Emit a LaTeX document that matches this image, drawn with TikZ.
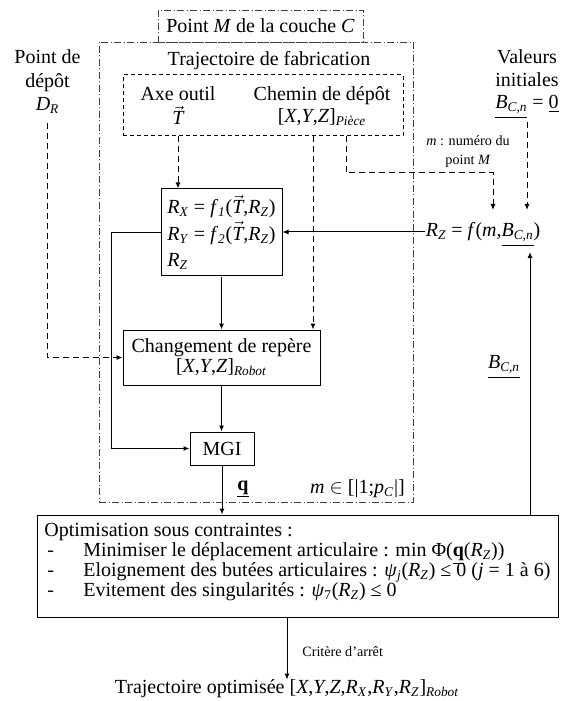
\documentclass[tikz,border=0pt]{standalone}
\usepackage{fontspec}
\setmainfont{Liberation Serif}
\usetikzlibrary{arrows.meta}
\newcommand{\sub}[1]{\textsubscript{\textit{#1}}}
\newcommand{\vT}{$\vec{\textit{T}}$}
\newcommand{\ulbox}[1]{$\underline{\hbox{#1}\rule[-3.5pt]{0pt}{3.5pt}}$}
\newcommand{\Bcn}{\textit{B}\sub{C,n}}
\newcommand{\itemdash}{\makebox[23.4pt][l]{\hspace{1.8pt}-}}
\begin{document}
\begin{tikzpicture}[x=0.6pt,y=-0.6pt,
  every node/.style={font=\fontsize{12}{14}\selectfont, inner sep=0pt},
  box/.style={draw, line width=0.6pt},
  dbox/.style={draw, line width=0.6pt, dash pattern=on 2.4pt off 1.8pt},
  ddbox/.style={draw=black!75, line width=0.5pt, dash pattern=on 4.2pt off 1.5pt on 0.6pt off 1.5pt},
  arr/.style={line width=0.6pt, -{Latex[length=3.6pt,width=3pt]}},
  darr/.style={arr, dash pattern=on 3.6pt off 2.4pt},
  small/.style={font=\fontsize{8.5}{11.4}\selectfont},
]
\useasboundingbox (0,0) rectangle (560,701);

% frames
\node[ddbox, minimum width=188.4pt, minimum height=276pt] (traj) at (256,272) {};
\node[ddbox, minimum width=123pt, minimum height=19.2pt] (pointM) at (260.5,26) {Point \textit{M} de la couche \textit{C}};
\node (trajlbl) at (269,61) {Trajectoire de fabrication};
\node[dbox, minimum width=168pt, minimum height=36.6pt] (dbx) at (263,105.5) {};
\node[align=center, font=\fontsize{12}{14.4}\selectfont] (axe) at (178,106) {Axe outil\\\vT};
\node[align=center, font=\fontsize{12}{13.2}\selectfont] (chemin) at (322,106) {Chemin de dépôt\\{[}\textit{X},\textit{Y},\textit{Z}{]}\sub{Pièce}};

% side labels
\node[align=center, font=\fontsize{12}{14.1}\selectfont] (depot) at (47.5,82) {Point de\\dépôt\\\textit{D}\sub{R}};
\node[align=center, font=\fontsize{12}{13.5}\selectfont] (valeurs) at (527,84) {Valeurs\\initiales\\\ulbox{\Bcn} = \underline{0}};
\node[small, align=center] (mlbl) at (468,152) {\textit{m} : numéro du\\point \textit{M}};
\node[anchor=base] (rzf) at (483,237) {\textit{R}\sub{Z} = \textit{f}(\textit{m},\ulbox{\Bcn})};

% blocks
\node[box, minimum width=72.6pt, minimum height=52.2pt, align=left, font=\fontsize{12}{15.9}\selectfont] (rx) at (221.5,232.5)
  {\textit{R}\sub{X} = \textit{f}\sub{1}(\vT,\textit{R}\sub{Z})\\
   \textit{R}\sub{Y} = \textit{f}\sub{2}(\vT,\textit{R}\sub{Z})\\
   \textit{R}\sub{Z}};
\node[box, minimum width=118.2pt, minimum height=33pt, align=center, font=\fontsize{12}{12}\selectfont] (chg) at (221.5,357.5)
  {Changement de repère\\{[}\textit{X},\textit{Y},\textit{Z}{]}\sub{Robot}};
\node[box, minimum width=38.4pt, minimum height=19.8pt] (mgi) at (222,448.5) {MGI};
\node (qlbl) at (243,489) {\underline{\textbf{q}}};
\node[anchor=east] (mrange) at (405,489) {\textit{m} $\in$ [|1;\textit{p}\sub{C}|]};
\node (bcnlbl) at (504,367) {\ulbox{\Bcn}};

\node[box, minimum width=312.6pt, minimum height=61.2pt] (opt) at (297.5,566) {};
\node[anchor=north west, align=left, font={\fontsize{12}{12}\selectfont\lineskiplimit=-20pt}] (opttxt) at (44,523)
  {Optimisation sous contraintes :\\
   \itemdash Minimiser le déplacement articulaire : min Φ(\underline{\textbf{q}}(\textit{R}\sub{Z}))\\
   \itemdash Eloignement des butées articulaires : \textit{ψ}\sub{j}(\textit{R}\sub{Z}) ≤ 0 (\textit{j} = 1 à 6)\\
   \itemdash Evitement des singularités : \textit{ψ}\textsubscript{7}(\textit{R}\sub{Z}) ≤ 0};
\node (result) at (287,689) {Trajectoire optimisée {[}\textit{X},\textit{Y},\textit{Z},\textit{R}\sub{X},\textit{R}\sub{Y},\textit{R}\sub{Z}{]}\sub{Robot}};
\node[small, anchor=west] (crit) at (302,652) {Critère d'arrêt};

% coordinates
\coordinate (mOut) at (346,136);
\coordinate (mBend) at (346,173);
\coordinate (mIn) at (493,210);
\coordinate (bOut) at (527,122);
\coordinate (bIn) at (527,210);
\coordinate (cOut) at (313,136);
\coordinate (lft) at (111,232.5);
\coordinate (fb) at (530,252);

% connectors
\draw[darr] ([yshift=-5pt]depot.south) |- (chg.west);
\draw[darr] (axe.south |- dbx.south) -- (axe.south |- rx.north);
\draw[darr] (cOut) -- (cOut |- chg.north);
\draw[darr] (mOut) -- (mBend) -| (mIn);
\draw[darr] (bOut) -- (bIn);
\draw[arr] ([yshift=3pt]rzf.base west) -- ([yshift=3pt]rzf.base west -| rx.east);
\draw[arr] (rx.south) -- (rx.south |- chg.north);
\draw[arr] (chg.south) -- (chg.south |- mgi.north);
\draw[arr] (rx.west) -- (lft) |- (mgi.west);
\draw[arr] (mgi.south) -- (mgi.south |- opt.north);
\draw[arr] (fb |- opt.north) -- (fb);
\draw[arr] (opt.south -| result) -- (result.north);
\end{tikzpicture}
\end{document}
